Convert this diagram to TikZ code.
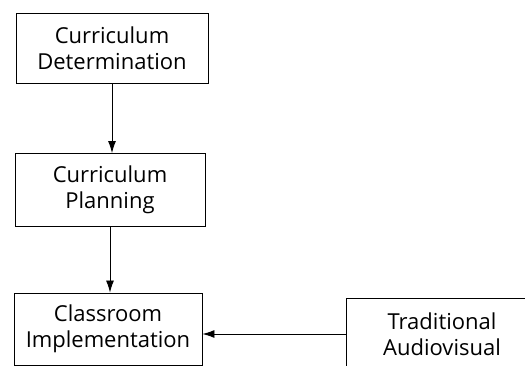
\documentclass[tikz,border=0pt]{standalone}
\usepackage{fontspec}
\setmainfont{Open Sans}
\usetikzlibrary{arrows.meta, positioning}

\tikzset{
    stage/.style={draw, line width=0.9pt, align=center, inner sep=0pt,
        font=\fontsize{22}{26}\selectfont},
    flow/.style={line width=0.9pt, -{Latex[length=12pt, width=8pt]}}
}

\begin{document}
\begin{tikzpicture}[x=1pt, y=-1pt]
            \useasboundingbox (0,0) rectangle (525,366);
            \node[stage, minimum width=192pt, minimum height=70pt] (determ) at (112,48) {Curriculum\\Determination};
            \node[stage, minimum width=190pt, minimum height=73pt] (plan) at (110,190) {Curriculum\\Planning};
            \node[stage, minimum width=188pt, minimum height=72pt] (impl) at (108,329) {Classroom\\Implementation};
            % box cut off at the right and lower edge
            \draw[line width=0.9pt] (346,366) -- (346,298) -- (525,298);
            \node[align=center, font=\fontsize{22}{26}\selectfont] (trad) at (442,334) {Traditional\\Audiovisual};
            \coordinate (tradin) at (346,334);
            \draw[flow] (determ.south) -- (plan.north -| determ.south);
            \draw[flow] (plan.south) -- (impl.north -| plan.south);
            \draw[flow] (tradin) -- (impl.east |- tradin);
        \end{tikzpicture}
\end{document}
